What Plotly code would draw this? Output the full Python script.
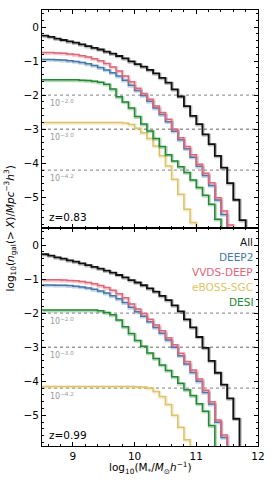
import plotly.graph_objects as go
from plotly.subplots import make_subplots

# bin left edges (log10 M*), width 0.1
bin_start = 8.5
bin_width = 0.1

# z = 0.83 panel
all_083 = [-0.25, -0.29, -0.34, -0.38, -0.42, -0.46, -0.51, -0.56, -0.61, -0.66,
           -0.72, -0.78, -0.85, -0.92, -1.01, -1.09, -1.16, -1.26, -1.36, -1.49,
           -1.63, -1.83, -2.04, -2.32, -2.61, -2.85, -3.15, -3.44, -3.78, -4.13,
           -4.58, -5.07, -5.67]
deep2_083 = [-0.95, -0.95, -0.96, -0.97, -0.99, -1.01, -1.04, -1.08, -1.13, -1.19,
             -1.26, -1.34, -1.44, -1.56, -1.71, -1.86, -2.01, -2.18, -2.38, -2.57,
             -2.78, -3.06, -3.31, -3.57, -3.82, -4.09, -4.36, -4.65, -5.08, -5.50]
vvds_083 = [-0.75, -0.75, -0.76, -0.77, -0.79, -0.81, -0.84, -0.88, -0.93, -0.99,
            -1.07, -1.17, -1.29, -1.44, -1.61, -1.80, -1.95, -2.12, -2.32, -2.51,
            -2.71, -3.00, -3.25, -3.51, -3.75, -4.03, -4.29, -4.57, -5.01, -5.40,
            -5.81]
eboss_083 = [-2.80, -2.80, -2.80, -2.80, -2.80, -2.80, -2.80, -2.80, -2.80, -2.80,
             -2.80, -2.80, -2.80, -2.82, -2.86, -2.97, -3.10, -3.27, -3.49, -3.78,
             -4.08, -4.47, -4.91, -5.35, -5.74]
desi_083 = [-1.55, -1.55, -1.55, -1.55, -1.55, -1.55, -1.56, -1.57, -1.59, -1.62,
            -1.68, -1.82, -2.05, -2.20, -2.38, -2.63, -2.85, -3.05, -3.27, -3.51,
            -3.75, -3.93, -4.10, -4.27, -4.49, -4.71, -4.94, -5.20, -5.64]

# z = 0.99 panel
all_099 = [-0.27, -0.31, -0.36, -0.40, -0.45, -0.49, -0.54, -0.59, -0.64, -0.69,
           -0.75, -0.81, -0.88, -0.95, -1.03, -1.10, -1.18, -1.27, -1.37, -1.49,
           -1.62, -1.77, -1.95, -2.18, -2.42, -2.70, -3.02, -3.40, -3.75, -4.10,
           -4.50, -5.10]
deep2_099 = [-1.17, -1.17, -1.18, -1.18, -1.19, -1.21, -1.23, -1.26, -1.30, -1.35,
             -1.41, -1.49, -1.58, -1.69, -1.83, -1.96, -2.09, -2.25, -2.42, -2.59,
             -2.79, -3.00, -3.25, -3.49, -3.74, -4.00, -4.33, -4.67, -5.20, -5.65]
vvds_099 = [-1.02, -1.02, -1.02, -1.03, -1.04, -1.05, -1.07, -1.10, -1.14, -1.19,
            -1.25, -1.33, -1.43, -1.55, -1.73, -1.88, -2.01, -2.18, -2.35, -2.52,
            -2.72, -2.93, -3.18, -3.42, -3.67, -3.93, -4.26, -4.60, -5.14, -5.58]
eboss_099 = [-4.15, -4.15, -4.15, -4.15, -4.15, -4.15, -4.15, -4.15, -4.15, -4.15,
             -4.15, -4.15, -4.15, -4.15, -4.15, -4.16, -4.17, -4.20, -4.30, -4.45,
             -4.68, -5.00, -5.35, -5.72]
desi_099 = [-1.91, -1.91, -1.91, -1.91, -1.91, -1.91, -1.91, -1.91, -1.91, -1.93,
            -1.98, -2.05, -2.20, -2.40, -2.60, -2.80, -2.97, -3.17, -3.33, -3.52,
            -3.68, -3.87, -4.06, -4.25, -4.42, -4.66, -4.88, -5.30]

names = ["All", "DEEP2", "VVDS-DEEP", "eBOSS-SGC", "DESI"]
colors = ["#111111", "#4477AA", "#DD6677", "#DDC36A", "#228833"]
shadow_colors = ["rgba(0,0,0,0.25)", "rgba(68,119,170,0.32)", "rgba(221,102,119,0.32)",
                 "rgba(221,195,106,0.32)", "rgba(34,136,51,0.32)"]
panels = [
    ("z=0.83", [all_083, deep2_083, vvds_083, eboss_083, desi_083]),
    ("z=0.99", [all_099, deep2_099, vvds_099, eboss_099, desi_099]),
]
thresholds = [-2.0, -3.0, -4.2]
threshold_labels = ["10<sup>−2.0</sup>", "10<sup>−3.0</sup>", "10<sup>−4.2</sup>"]

x_range = [8.5, 12.0]
y_range = [-5.9, 0.5]
floor_value = -10.0  # below axis: drop after last populated bin

fig = make_subplots(rows=2, cols=1, shared_xaxes=True, vertical_spacing=0)

for row, (zlabel, series) in enumerate(panels, start=1):
    for i in range(len(names)):
        vals = series[i]
        xs = [round(bin_start + k * bin_width, 3) for k in range(len(vals) + 1)]
        ys = list(vals) + [floor_value]
        # soft shadow
        fig.add_trace(go.Scatter(x=[v + 0.012 for v in xs], y=[v - 0.025 for v in ys],
                                 mode="lines", line=dict(color=shadow_colors[i], width=3, shape="hv"),
                                 hoverinfo="skip", showlegend=False), row=row, col=1)
        fig.add_trace(go.Scatter(x=xs, y=ys, mode="lines",
                                 line=dict(color=colors[i], width=1.8 if i == 0 else 1.5, shape="hv"),
                                 name=names[i], showlegend=False), row=row, col=1)
    yref = "y" if row == 1 else "y2"
    for t, lab in zip(thresholds, threshold_labels):
        fig.add_shape(type="line", xref="x domain", yref=yref, x0=0, x1=1, y0=t, y1=t,
                      line=dict(color="#999999", width=1.4, dash="dot"), layer="below")
        fig.add_annotation(text=lab, xref="x domain", yref=yref, x=0.03, y=t,
                           xanchor="left", yanchor="top", yshift=-1, showarrow=False,
                           font=dict(family="DejaVu Sans", size=8, color="#999999"))
    fig.add_annotation(text=zlabel, xref="x domain", yref=("y domain" if row == 1 else "y2 domain"),
                       x=0.025, y=0.015, xanchor="left", yanchor="bottom", showarrow=False,
                       font=dict(family="DejaVu Sans", size=10.5, color="black"))

# legend as coloured text
for k, (nm, c) in enumerate(zip(names, colors)):
    fig.add_annotation(text=nm, xref="x domain", yref="y2 domain", x=0.985,
                       y=0.935 - k * 0.069, xanchor="right", yanchor="middle", showarrow=False,
                       font=dict(family="DejaVu Sans", size=10.5, color=c))

axis_common = dict(showline=True, linecolor="black", linewidth=1, mirror="ticks",
                   ticks="inside", ticklen=4, tickwidth=1, tickcolor="black",
                   showgrid=False, zeroline=False,
                   tickfont=dict(family="DejaVu Sans", size=10.5, color="black"))

fig.update_xaxes(range=x_range, dtick=1, tick0=0,
                 minor=dict(ticks="inside", ticklen=2, dtick=0.2, tick0=0, tickcolor="black"),
                 **axis_common)
fig.update_xaxes(showticklabels=False, row=1, col=1)
fig.update_yaxes(range=y_range, dtick=1, tick0=0,
                 minor=dict(ticks="inside", ticklen=2, dtick=0.2, tick0=0, tickcolor="black"),
                 **axis_common)

fig.add_annotation(text="log<sub>10</sub>(<i>n</i><sub>gal</sub>(> <i>X</i>)/<i>Mpc</i><sup>−3</sup><i>h</i><sup>3</sup>)",
                   xref="paper", yref="paper", x=-0.146, y=0.5, textangle=-90,
                   xanchor="center", yanchor="middle", showarrow=False,
                   font=dict(family="DejaVu Sans", size=10.5, color="black"))
fig.add_annotation(text="log<sub>10</sub>(M<sub>*</sub>/<i>M</i><sub>⊙</sub><i>h</i><sup>−1</sup>)",
                   xref="paper", yref="paper", x=0.5, y=-0.05,
                   xanchor="center", yanchor="middle", showarrow=False,
                   font=dict(family="DejaVu Sans", size=10.5, color="black"))

fig.update_layout(width=274, height=480, margin=dict(l=42, r=13, t=9, b=34),
                  plot_bgcolor="white", paper_bgcolor="white", showlegend=False)

fig.write_html("out.html", config={"displayModeBar": False},
               post_script="document.body.style.margin='0';")
